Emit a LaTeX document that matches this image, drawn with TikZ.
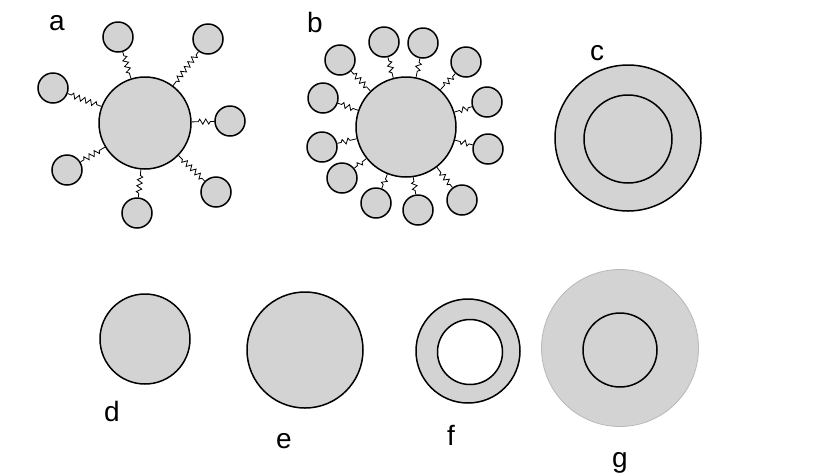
\documentclass[tikz,border=0pt]{standalone}
\usepackage{fontspec}
\setmainfont{Liberation Sans}
\usetikzlibrary{decorations.pathmorphing}
\definecolor{grigio}{RGB}{211,211,211}
\definecolor{bordo}{RGB}{185,185,185}
\tikzset{
  sfera/.style={circle, draw=black, line width=1.5pt, fill=grigio, inner sep=0pt, minimum size=#1},
  vuota/.style={circle, draw=black, line width=1.5pt, fill=white, inner sep=0pt, minimum size=#1},
  pallina/.style={circle, draw=black, line width=1.5pt, fill=grigio, inner sep=0pt, minimum size=30pt},
  catena/.style={line width=0.8pt, decorate, decoration={zigzag, segment length=6pt, amplitude=2.6pt, pre length=4pt, post length=4pt}},
  lettera/.style={font=\fontsize{28}{30}\selectfont, anchor=base}
}
\begin{document}
\begin{tikzpicture}[x=1pt,y=-1pt]
        \useasboundingbox (0,0) rectangle (835,475);
        % Pannello a
        \node[sfera=92pt] (A) at (145,123) {};
        \node[pallina] (a1) at (118,37) {};
        \node[pallina] (a2) at (208,39) {};
        \node[pallina] (a3) at (53,88) {};
        \node[pallina] (a4) at (230,121) {};
        \node[pallina] (a5) at (67,170) {};
        \node[pallina] (a6) at (216,192) {};
        \node[pallina] (a7) at (137,213) {};
        \draw[catena] (a1) -- (A);
        \draw[catena] (a2) -- (A);
        \draw[catena] (a3) -- (A);
        \draw[catena] (a4) -- (A);
        \draw[catena] (a5) -- (A);
        \draw[catena] (a6) -- (A);
        \draw[catena] (a7) -- (A);
        \node[lettera] (la) at (57,30) {a};
        % Pannello b
        \node[sfera=100pt] (B) at (406,127) {};
        \node[pallina] (b1) at (340,60) {};
        \node[pallina] (b2) at (384,42) {};
        \node[pallina] (b3) at (423,43) {};
        \node[pallina] (b4) at (466,62) {};
        \node[pallina] (b5) at (487,102) {};
        \node[pallina] (b6) at (488,149) {};
        \node[pallina] (b7) at (462,200) {};
        \node[pallina] (b8) at (418,210) {};
        \node[pallina] (b9) at (376,203) {};
        \node[pallina] (b10) at (342,178) {};
        \node[pallina] (b11) at (322,147) {};
        \node[pallina] (b12) at (323,98) {};
        \draw[catena] (b1) -- (B);
        \draw[catena] (b2) -- (B);
        \draw[catena] (b3) -- (B);
        \draw[catena] (b4) -- (B);
        \draw[catena] (b5) -- (B);
        \draw[catena] (b6) -- (B);
        \draw[catena] (b7) -- (B);
        \draw[catena] (b8) -- (B);
        \draw[catena] (b9) -- (B);
        \draw[catena] (b10) -- (B);
        \draw[catena] (b11) -- (B);
        \draw[catena] (b12) -- (B);
        \node[lettera] (lb) at (315,32) {b};
        % Pannello c
        \node[sfera=146pt] (C) at (628,138) {};
        \node[sfera=88pt] (Ci) at (628,139) {};
        \node[lettera] (lc) at (597,60) {c};
        % Pannello d
        \node[sfera=90pt] (D) at (145,339) {};
        \node[lettera] (ld) at (112,421) {d};
        % Pannello e
        \node[sfera=116pt] (E) at (305,350) {};
        \node[lettera] (le) at (284,448) {e};
        % Pannello f
        \node[sfera=104pt] (F) at (468,351) {};
        \node[vuota=65pt] (Fi) at (470,352) {};
        \node[lettera] (lf) at (451,445) {f};
        % Pannello g
        \node[circle, draw=bordo, line width=0.8pt, fill=grigio, inner sep=0pt, minimum size=157pt] (G) at (620,348) {};
        \node[circle, draw=black, line width=1.5pt, inner sep=0pt, minimum size=74pt] (Gi) at (620,350) {};
        \node[lettera] (lg) at (620,467) {g};
\end{tikzpicture}
\end{document}
